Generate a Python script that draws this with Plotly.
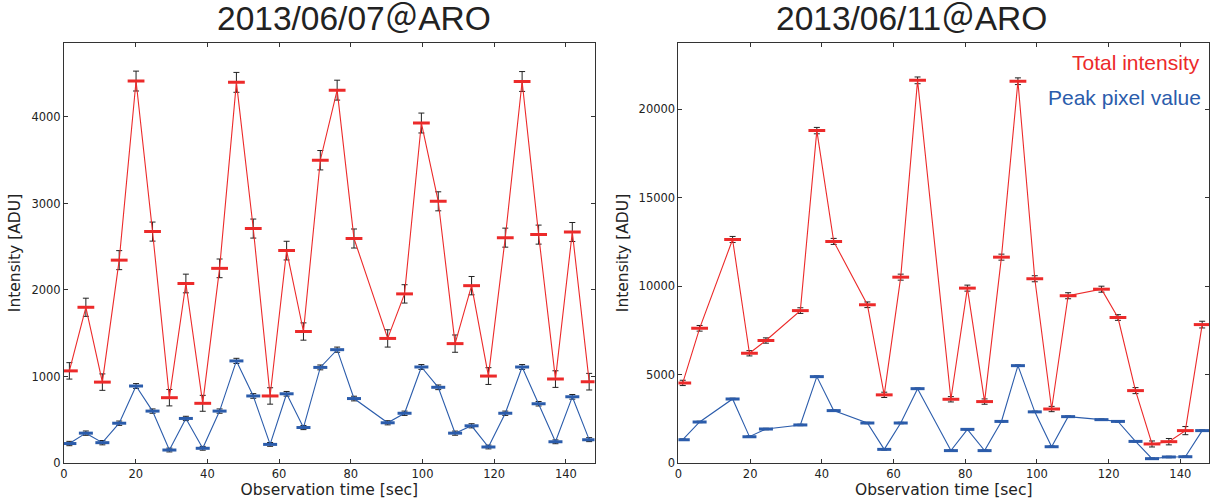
import plotly.graph_objects as go
from plotly.subplots import make_subplots

# ---- 2013/06/07 ----
t_0607 = [1.5, 6.1, 10.7, 15.4, 20.1, 24.7, 29.4, 34.0, 38.7, 43.4, 48.1, 52.8, 57.5,
          62.1, 66.8, 71.5, 76.2, 80.9, 90.3, 95.0, 99.7, 104.4, 109.1, 113.7, 118.4,
          123.1, 127.8, 132.4, 137.1, 141.8, 146.5]
total_0607 = [1065, 1800, 935, 2345, 4415, 2675, 755, 2075, 690, 2250, 4400, 2710, 775,
              2455, 1520, 3500, 4310, 2595, 1440, 1955, 3930, 3025, 1380, 2050, 1005,
              2605, 4410, 2640, 970, 2670, 940]
total_err_0607 = [95, 105, 95, 110, 115, 110, 95, 108, 92, 108, 115, 110, 95, 108, 100,
                  112, 115, 110, 100, 106, 115, 110, 100, 106, 97, 110, 115, 110, 96, 110, 96]
peak_0607 = [225, 345, 235, 460, 890, 600, 150, 515, 170, 600, 1180, 775, 215, 800, 410,
             1105, 1310, 745, 465, 575, 1110, 875, 345, 430, 185, 575, 1110, 685, 245, 765, 270]
peak_err_0607 = [25, 25, 25, 25, 28, 25, 22, 25, 22, 25, 30, 27, 22, 27, 24, 28, 30, 27,
                 24, 25, 28, 27, 24, 24, 22, 25, 28, 26, 22, 27, 23]

# ---- 2013/06/11 ----
t_0611 = [1.2, 5.9, 15.1, 19.8, 24.4, 34.0, 38.6, 43.3, 52.7, 57.4, 62.0, 66.7, 76.0,
          80.6, 85.4, 90.1, 94.7, 99.4, 104.1, 108.7, 118.0, 122.6, 127.5, 132.1, 136.8,
          141.4, 146.1]
total_0611 = [4525, 7610, 12630, 6200, 6920, 8610, 18780, 12520, 8940, 3850, 10500, 21620,
              3600, 9880, 3470, 11630, 21570, 10410, 3050, 9450, 9820, 8220, 4090, 1075,
              1205, 1830, 7820]
total_err_0611 = [150, 160, 170, 150, 150, 160, 180, 170, 160, 150, 170, 190, 150, 170,
                  150, 170, 190, 170, 150, 170, 170, 160, 170, 170, 180, 230, 190]
peak_0611 = [1320, 2320, 3620, 1490, 1920, 2150, 4880, 2960, 2260, 770, 2260, 4200, 700,
             1900, 700, 2350, 5500, 2890, 920, 2620, 2450, 2350, 1220, 245, 340, 355, 1830]
peak_err_0611 = [40] * len(t_0611)

RED = "#ec2a2a"
BLUE = "#2b5cab"
ERR = "#222222"
TICK_FONT = dict(family="DejaVu Sans", size=11.5, color="#222222")
AXIS_TITLE_FONT = dict(family="DejaVu Sans", size=15.5, color="#222222")

fig = make_subplots(rows=1, cols=2, horizontal_spacing=0.0733)


def add_series(x, y, err, color, size, col):
    fig.add_trace(
        go.Scatter(
            x=x, y=y, mode="lines+markers",
            line=dict(color=color, width=1.1),
            marker=dict(symbol="line-ew", size=size, line=dict(color=color, width=3)),
            error_y=dict(type="data", array=err, visible=True, color=ERR,
                         thickness=1, width=3),
            showlegend=False,
        ),
        row=1, col=col,
    )


add_series(t_0607, peak_0607, peak_err_0607, BLUE, 10, 1)
add_series(t_0607, total_0607, total_err_0607, RED, 12, 1)
add_series(t_0611, peak_0611, peak_err_0611, BLUE, 10, 2)
add_series(t_0611, total_0611, total_err_0611, RED, 12, 2)

axis_common = dict(
    showgrid=False, zeroline=False, showline=True, linecolor="#333333", linewidth=1,
    mirror="ticks", ticks="inside", ticklen=4, tickcolor="#333333", tickwidth=1,
    tickfont=TICK_FONT, tickformat="d",
)

for col in (1, 2):
    fig.update_xaxes(
        range=[0, 148], tickvals=[0, 20, 40, 60, 80, 100, 120, 140],
        title=dict(text="Observation time [sec]", font=AXIS_TITLE_FONT, standoff=4),
        row=1, col=col, **axis_common,
    )

fig.update_yaxes(
    range=[0, 4855], tickvals=[0, 1000, 2000, 3000, 4000],
    title=dict(text="Intensity [ADU]", font=AXIS_TITLE_FONT, standoff=6),
    row=1, col=1, **axis_common,
)
fig.update_yaxes(
    range=[0, 23730], tickvals=[0, 5000, 10000, 15000, 20000],
    title=dict(text="Intensity [ADU]", font=AXIS_TITLE_FONT, standoff=6),
    row=1, col=2, **axis_common,
)

TITLE_FONT = dict(family="Liberation Sans, Arial, Noto Sans CJK JP", size=33.5, color="#222222")
LABEL_FONT_SIZE = 21

fig.update_layout(
    width=1211, height=504,
    margin=dict(l=64, r=2, t=43, b=41),
    plot_bgcolor="white", paper_bgcolor="white",
    annotations=[
        dict(text="2013/06/07＠ARO", xref="paper", yref="paper", x=0.253, y=1.0595,
             xanchor="center", yanchor="middle", showarrow=False, font=TITLE_FONT),
        dict(text="2013/06/11＠ARO", xref="paper", yref="paper", x=0.7406, y=1.0595,
             xanchor="center", yanchor="middle", showarrow=False, font=TITLE_FONT),
        dict(text="Total intensity", xref="paper", yref="paper", x=0.9936, y=0.9536,
             xanchor="right", yanchor="middle", showarrow=False,
             font=dict(family="Liberation Sans, Arial", size=LABEL_FONT_SIZE, color=RED)),
        dict(text="Peak pixel value", xref="paper", yref="paper", x=0.9946, y=0.871,
             xanchor="right", yanchor="middle", showarrow=False,
             font=dict(family="Liberation Sans, Arial", size=LABEL_FONT_SIZE, color=BLUE)),
    ],
)

fig.write_html("out.html")
